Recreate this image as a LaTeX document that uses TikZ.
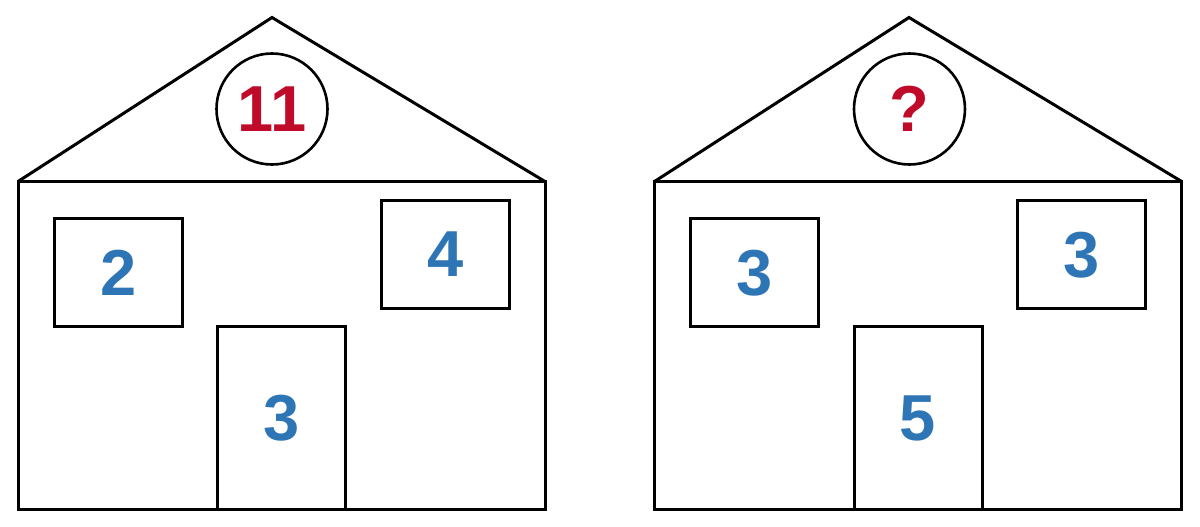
\documentclass[tikz,border=0pt]{standalone}
\usepackage{fontspec}
\setmainfont{Liberation Sans}
\definecolor{numred}{HTML}{C00A2A}
\definecolor{numblue}{HTML}{2E75B6}
\begin{document}
\begin{tikzpicture}[x=1pt,y=-1pt,
  line width=3pt, line join=miter,
  digit/.style={font=\fontsize{65}{65}\selectfont\bfseries},
  wall/.style={draw=black},
  windowbox/.style={draw=black, rectangle, inner sep=0pt, minimum width=128pt, minimum height=108.5pt, digit, text=numblue, text depth=0pt},
  doorbox/.style={draw=black, rectangle, inner sep=0pt, minimum width=128pt, minimum height=182.5pt, digit, text=numblue, text depth=0pt},
  topcircle/.style={draw=black, circle, inner sep=0pt, minimum size=111pt, digit, text=numred, text depth=0pt, line width=2.6pt}]
\useasboundingbox (0,0) rectangle (1200,527);
% ---- left house ----
\coordinate (LA) at (18,181.5);
\coordinate (LB) at (545,181.5);
\coordinate (LC) at (545,509);
\coordinate (LD) at (18,509);
\coordinate (LP) at (272,17.5);
\draw[wall] (LA) -- (LP) -- (LB);
\draw[wall] (LA) -- (LB) -- (LC) -- (LD) -- cycle;
\node[topcircle] (lsum) at (272,109) {11};
\node[windowbox] (lw1) at (118.3,272.5) {2};
\node[windowbox] (lw2) at (445.3,254.5) {4};
\node[doorbox] (ldoor) at (281.8,417.8) {3};
% ---- right house ----
\coordinate (RA) at (654.5,181.5);
\coordinate (RB) at (1181.7,181.5);
\coordinate (RC) at (1181.7,509);
\coordinate (RD) at (654.5,509);
\coordinate (RP) at (909,17.5);
\draw[wall] (RA) -- (RP) -- (RB);
\draw[wall] (RA) -- (RB) -- (RC) -- (RD) -- cycle;
\node[topcircle] (rsum) at (909.5,109) {?};
\node[windowbox] (rw1) at (754.3,272.5) {3};
\node[windowbox] (rw2) at (1081.7,254.5) {3};
\node[doorbox] (rdoor) at (918,417.8) {5};
\end{tikzpicture}
\end{document}
